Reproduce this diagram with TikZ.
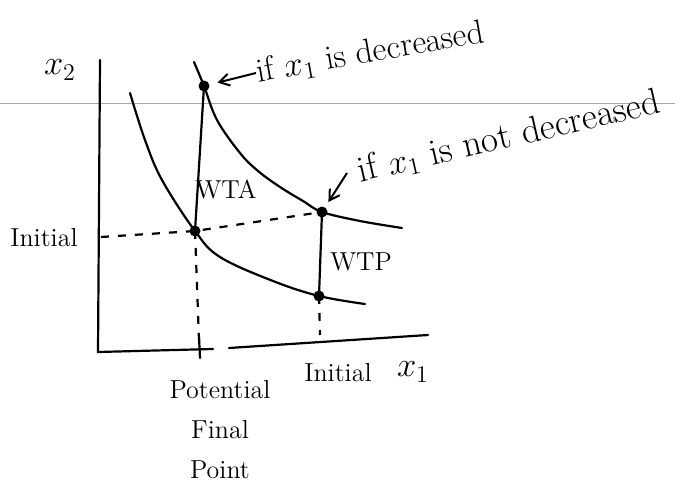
\documentclass[tikz,border=0pt]{standalone}
\usepackage{amsmath}
\usepackage{tikz}
\usetikzlibrary{arrows.meta,positioning,calc}

\begin{document}
\begin{tikzpicture}[
    x=0.5pt, y=-0.5pt,
    curve/.style={line width=1.1pt, line cap=round},
    axis/.style={line width=1.1pt, line cap=round},
    guide/.style={line width=1.1pt, dash pattern=on 4pt off 4.5pt},
    dot/.style={circle, fill=black, inner sep=0pt, minimum size=5.5pt},
    note/.style={font=\fontsize{17}{19}\selectfont, inner sep=0pt},
    tag/.style={font=\fontsize{13}{15}\selectfont, inner sep=0pt},
    var/.style={font=\fontsize{18}{20}\selectfont, inner sep=0pt},
    >={Straight Barb[length=5pt,width=6pt]}
]
\useasboundingbox (0,0) rectangle (675,492);

% ruled line of the sheet
\draw[gray!70, line width=0.4pt] (0,103) -- (675,103);

% axes
\coordinate (ytop) at (100,60);
\coordinate (origin) at (98,352);
\coordinate (gapl) at (213,349);
\coordinate (gapr) at (229,348);
\coordinate (xend) at (428,335);
\draw[axis] (ytop) -- (origin) -- (gapl);
\draw[axis] (gapr) -- (xend);

% points
\node[dot] (A) at (204,86) {};
\node[dot] (B) at (195,231) {};
\node[dot] (C) at (322,212) {};
\node[dot] (D) at (319,296) {};

% indifference curves
\draw[curve] plot[smooth, tension=0.6] coordinates {(194,62) (A.center) (217,120) (240,153) (258,171) (280,187) (303,201) (C.center) (360,221) (402,228)};
\draw[curve] plot[smooth, tension=0.6] coordinates {(130,93) (145,140) (162,180) (B.center) (220,257) (273,281) (D.center) (365,304)};

\draw[curve] (A.center) -- (B.center);
\draw[curve] (C.center) -- (D.center);

% guides
\coordinate (yinit) at (101,237);
\coordinate (xfinal) at (199,340);
\coordinate (xinit) at (320,335);
\draw[guide] (yinit) -- (B.center) -- (C.center);
\draw[guide] (B.center) -- (xfinal);
\draw[guide] (D.center) -- (xinit);
\draw[axis] (199,337) -- (200,358);

% labels
\node[var] (ylab) at (60,70) {$x_2$};
\node[var] (xlab) at (413,372) {$x_1$};
\node[tag] (yinitlab) at (44,238) {Initial};
\node[tag] (xinitlab) at (338,373) {Initial};
\node[tag, align=center] (final) at (220,430) {Potential\\[5pt]Final\\[5pt]Point};
\node[tag] (wta) at (226,189) {WTA};
\node[tag] (wtp) at (361,262) {WTP};

\node[note, anchor=west, rotate=10] (dec) at (256,73) {if $x_1$ is decreased};
\node[note, anchor=west, rotate=13, font=\fontsize{18.5}{20}\selectfont] (notdec) at (358,172) {if $x_1$ is not decreased};

\coordinate (nottail) at (347,173);
\draw[->, line width=1pt, shorten >=4pt] (dec.west) -- (A);
\draw[->, line width=1pt, shorten >=3pt] (nottail) -- (C);

\end{tikzpicture}
\end{document}
